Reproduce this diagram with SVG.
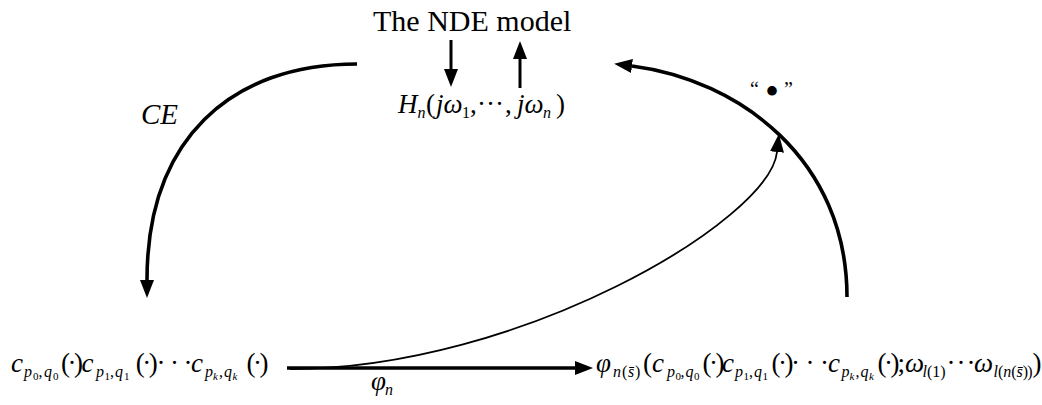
<svg xmlns="http://www.w3.org/2000/svg" width="1042" height="405" viewBox="0 0 1042 405">
<style>
text{font-family:"Liberation Serif","Times New Roman",serif;fill:#000}
.m{font-size:27px}
.i{font-style:italic}
.s{font-size:16px}
.ss{font-size:11px}
.pd{letter-spacing:-2.5px}
.thick{fill:none;stroke:#000;stroke-width:3.6}
.mid{fill:none;stroke:#000;stroke-width:3}
.thin{fill:none;stroke:#000;stroke-width:1.8}
</style>
<defs>
<marker id="ah" markerUnits="userSpaceOnUse" viewBox="0 0 18 14" markerWidth="18" markerHeight="14" refX="0" refY="7" orient="auto">
<path d="M0,0 L18,7 L0,14 z" fill="#000"/>
</marker>
</defs>
<g id="connectors">
<path class="mid" d="M451,40 L451,69" marker-end="url(#ah)"/>
<path class="mid" d="M520,88 L520,59" marker-end="url(#ah)"/>
<path class="thick" d="M357,64 C230,64 147,140 147,280" marker-end="url(#ah)"/>
<path class="thick" d="M847,297 C847,160 740,80 632,66" marker-end="url(#ah)"/>
<path class="thin" d="M290,369 C520,369 770,220 777,152" marker-end="url(#ah)"/>
<path class="thick" d="M287,368 L575,368" marker-end="url(#ah)"/>
</g>
<g id="title">
<text x="373" y="31" style="font-size:30px">The NDE model</text>
</g>
<g id="H">
<text class="m">
<tspan x="398" y="113" class="i">H</tspan><tspan x="417.5" y="118" class="s i">n</tspan><tspan x="426" y="113">(</tspan><tspan x="436" y="113" class="i">j</tspan><tspan x="443.5" y="113" class="i">ω</tspan><tspan x="462" y="118" class="s">1</tspan><tspan x="470" y="113">,</tspan><tspan x="477" y="113">·</tspan><tspan x="486" y="113">·</tspan><tspan x="495" y="113">·</tspan><tspan x="505" y="113">,</tspan><tspan x="517" y="113" class="i">j</tspan><tspan x="524.5" y="113" class="i">ω</tspan><tspan x="543" y="118" class="s i">n</tspan><tspan x="556" y="113">)</tspan>
</text>
</g>
<g id="CE">
<text x="141" y="124" class="i" style="font-size:29px">CE</text>
</g>
<g id="dot">
<text style="font-size:20px"><tspan x="750" y="96">“</tspan><tspan x="765" y="105" style="font-size:40px">•</tspan><tspan x="784" y="96">”</tspan></text>
</g>
<g id="phi-n">
<text class="m"><tspan x="371" y="390" class="i">φ</tspan><tspan x="385" y="395" class="s i">n</tspan></text>
</g>
<g id="left">
<text class="m">
<tspan x="11" y="372" class="i">c</tspan><tspan x="24" y="377" class="s i">p</tspan><tspan x="33" y="380" class="ss">0</tspan><tspan x="38.5" y="377" class="s">,</tspan><tspan x="44" y="377" class="s i">q</tspan><tspan x="53" y="380" class="ss">0</tspan><tspan x="61" y="372" class="pd">(·)</tspan><tspan x="81.5" y="372" class="i">c</tspan><tspan x="96" y="377" class="s i">p</tspan><tspan x="104.5" y="380" class="ss">1</tspan><tspan x="110" y="377" class="s">,</tspan><tspan x="115" y="377" class="s i">q</tspan><tspan x="124" y="380" class="ss">1</tspan><tspan x="135.7" y="372" class="pd">(·)</tspan><tspan x="156.6" y="372">·</tspan><tspan x="170.1" y="372">·</tspan><tspan x="183.6" y="372">·</tspan><tspan x="191" y="372" class="i">c</tspan><tspan x="205" y="377" class="s i">p</tspan><tspan x="213" y="380" class="ss i">k</tspan><tspan x="219" y="377" class="s">,</tspan><tspan x="224" y="377" class="s i">q</tspan><tspan x="232.5" y="380" class="ss i">k</tspan><tspan x="246.5" y="372" class="pd">(·)</tspan>
</text>
</g>
<g id="right">
<text class="m">
<tspan x="596" y="372" class="i">φ</tspan><tspan x="613" y="377" class="s i">n</tspan><tspan x="622" y="377" class="s">(</tspan><tspan x="628" y="377" class="s i">s̄</tspan><tspan x="635" y="377" class="s">)</tspan><tspan x="643" y="372">(</tspan><tspan x="652" y="372" class="i">c</tspan><tspan x="667" y="377" class="s i">p</tspan><tspan x="675.5" y="380" class="ss">0</tspan><tspan x="680.5" y="377" class="s">,</tspan><tspan x="685.5" y="377" class="s i">q</tspan><tspan x="694" y="380" class="ss">0</tspan><tspan x="702.5" y="372" class="pd">(·)</tspan><tspan x="722" y="372" class="i">c</tspan><tspan x="735" y="377" class="s i">p</tspan><tspan x="743.5" y="380" class="ss">1</tspan><tspan x="749" y="377" class="s">,</tspan><tspan x="754" y="377" class="s i">q</tspan><tspan x="762.5" y="380" class="ss">1</tspan><tspan x="771.5" y="372" class="pd">(·)</tspan><tspan x="791" y="372">·</tspan><tspan x="805.5" y="372">·</tspan><tspan x="820" y="372">·</tspan><tspan x="828" y="372" class="i">c</tspan><tspan x="841.5" y="377" class="s i">p</tspan><tspan x="849.5" y="380" class="ss i">k</tspan><tspan x="855.5" y="377" class="s">,</tspan><tspan x="860.5" y="377" class="s i">q</tspan><tspan x="869" y="380" class="ss i">k</tspan><tspan x="877.5" y="372" class="pd">(·)</tspan><tspan x="897.5" y="372">;</tspan><tspan x="905" y="372" class="i">ω</tspan><tspan x="922.5" y="377" class="s i">l</tspan><tspan x="927" y="377" class="s">(</tspan><tspan x="932.3" y="377" class="s">1</tspan><tspan x="940.3" y="377" class="s">)</tspan><tspan x="946.6" y="372">·</tspan><tspan x="956.6" y="372">·</tspan><tspan x="966.6" y="372">·</tspan><tspan x="974" y="372" class="i">ω</tspan><tspan x="993.5" y="377" class="s i">l</tspan><tspan x="998" y="377" class="s">(</tspan><tspan x="1003.3" y="377" class="s i">n</tspan><tspan x="1011.3" y="377" class="s">(</tspan><tspan x="1016.6" y="377" class="s i">s̄</tspan><tspan x="1022.8" y="377" class="s">)</tspan><tspan x="1027.2" y="377" class="s">)</tspan><tspan x="1032.5" y="372">)</tspan>
</text>
</g>
</svg>
